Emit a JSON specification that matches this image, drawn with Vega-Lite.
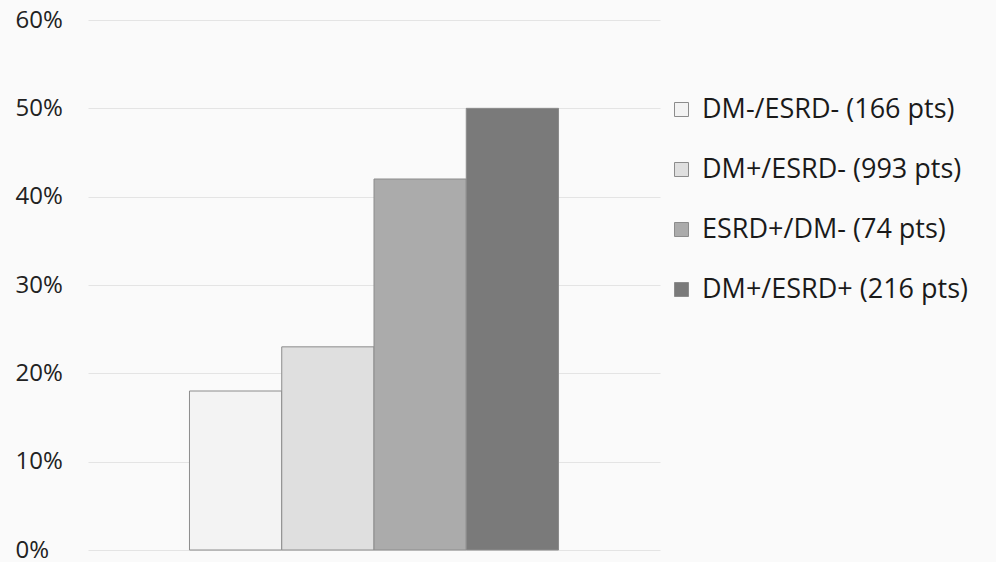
{
  "$schema": "https://vega.github.io/schema/vega-lite/v6.json",
  "width": 572,
  "height": 530,
  "autosize": {"type": "none"},
  "padding": {"left": 88, "top": 20, "right": 336, "bottom": 12},
  "background": "#fafafa",
  "config": {"view": {"stroke": null}, "font": "Open Sans"},
  "data": {
    "values": [
      {"cohort": "All", "group": "DM-/ESRD- (166 pts)", "rate": 0.18},
      {"cohort": "All", "group": "DM+/ESRD- (993 pts)", "rate": 0.23},
      {"cohort": "All", "group": "ESRD+/DM- (74 pts)", "rate": 0.42},
      {"cohort": "All", "group": "DM+/ESRD+ (216 pts)", "rate": 0.50}
    ]
  },
  "mark": {"type": "bar", "stroke": "#8c8c8c", "strokeWidth": 1},
  "encoding": {
    "x": {
      "field": "cohort", "type": "nominal", "axis": null,
      "scale": {"paddingInner": 0, "paddingOuter": 0.275}
    },
    "xOffset": {
      "field": "group", "type": "nominal", "sort": null,
      "scale": {"paddingInner": 0, "paddingOuter": 0}
    },
    "y": {
      "field": "rate", "type": "quantitative",
      "scale": {"domain": [0, 0.6]},
      "axis": {
        "values": [0, 0.1, 0.2, 0.3, 0.4, 0.5, 0.6],
        "format": ".0%", "title": null, "domain": false, "ticks": false,
        "labelAlign": "left", "labelPadding": 73, "labelFontSize": 24,
        "labelColor": "#222222", "gridColor": "#e4e4e4"
      }
    },
    "color": {
      "field": "group", "type": "nominal", "sort": null,
      "scale": {"range": ["#f3f3f3", "#dfdfdf", "#ababab", "#7a7a7a"]},
      "legend": {
        "title": null, "orient": "none", "legendX": 580, "legendY": 76,
        "symbolType": "square", "symbolSize": 196,
        "symbolStrokeColor": "#8c8c8c", "symbolStrokeWidth": 1,
        "labelFontSize": 27, "labelColor": "#1a1a1a", "labelOffset": 7,
        "rowPadding": 32, "labelLimit": 400
      }
    }
  }
}
